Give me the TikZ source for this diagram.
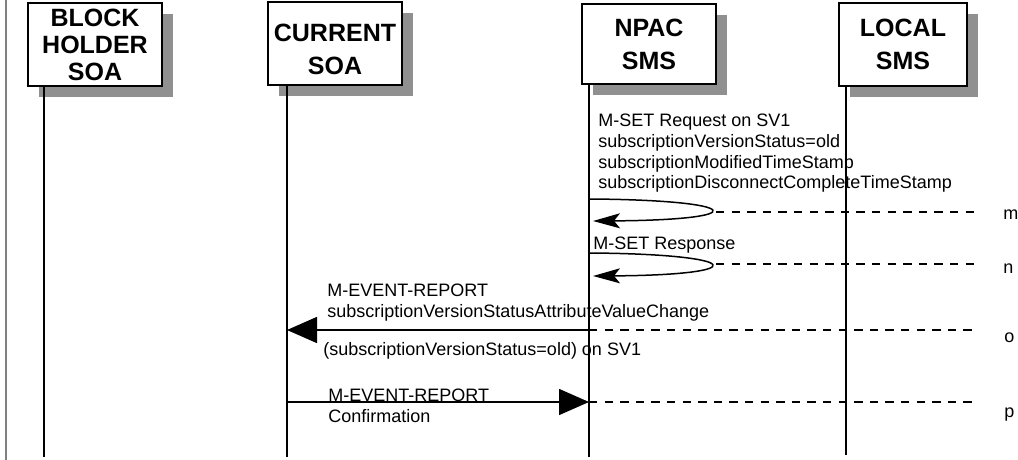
\documentclass[tikz,border=0pt]{standalone}
\usepackage{fontspec}
\setmainfont{Liberation Sans}
\usepackage{color}
\definecolor{myshadow}{RGB}{144,144,144}
\definecolor{myframe}{RGB}{128,128,128}
\usepackage{tikz}
\usetikzlibrary{arrows.meta,shadows,positioning,calc}
\tikzstyle{entity}=[draw,line width=1pt,fill=white,rectangle,minimum width=67pt,minimum height=41.5pt,inner sep=0pt,align=center,font=\fontsize{12.5}{13.5}\selectfont\bfseries,general shadow={fill=myshadow,shadow xshift=5.5pt,shadow yshift=-5.5pt}]
\tikzstyle{lifeline}=[line width=1pt]
\tikzstyle{msgtext}=[inner sep=0pt,anchor=north west,align=left,font=\fontsize{9}{10.3}\selectfont]

\begin{document}
\begin{tikzpicture}[
  x=0.5pt,
  y=-0.5pt,
  msg/.style={line width=0.8pt,-{Triangle[length=15pt,width=13pt]}},
  selfmsg/.style={line width=0.75pt,-{Stealth[length=13.5pt,width=7.5pt,inset=3pt]}},
  track/.style={line width=0.7pt,dash pattern=on 4.2pt off 3.6pt},
  tag/.style={inner sep=0pt,anchor=base west,font=\fontsize{9}{10}\selectfont}
]
\useasboundingbox (0,0) rectangle (1018,460);
\draw[myframe,line width=1pt] (6,0) -- (6,460);

\coordinate (bhE) at (44,457);
\coordinate (curE) at (287,457);
\coordinate (npE) at (589,457);
\coordinate (lsE) at (846,455);

\node [entity] (bh) at (95,44.5) {BLOCK\\HOLDER\\SOA};
\node [entity] (cur) at (335,43.5) {\rule{0pt}{15pt}CURRENT\\[3pt]SOA};
\node [entity, minimum height=40pt] (np) at (649,44) {NPAC\\[3pt]SMS};
\node [entity, minimum width=64pt] (ls) at (903,44.5) {LOCAL\\[3pt]SMS};

\draw[lifeline] (bhE |- bh.south) -- (bhE);
\draw[lifeline] (curE |- cur.south) -- (curE);
\draw[lifeline] (npE |- np.south) -- (npE);
\draw[lifeline] (lsE |- ls.south) -- (lsE);

\node [msgtext] (mTxt) at (598,114) {M-SET Request on SV1\\subscriptionVersionStatus=old\\subscriptionModifiedTimeStamp\\subscriptionDisconnectCompleteTimeStamp};
\coordinate (mS) at (589,199);
\coordinate (mE) at (593,221);
\draw[selfmsg] (mS) .. controls +(156,1) and +(162,-1) .. (mE);
\coordinate (mD) at (716,212);
\coordinate (mR) at (977,212);
\draw[track] (mD) -- (mR);
\node [tag] (mT) at (1003,220) {m};

\node [msgtext] (nTxt) at (593,237) {M-SET Response};
\coordinate (nS) at (589,253);
\coordinate (nE) at (593,276);
\draw[selfmsg] (nS) .. controls +(156,1) and +(162,-1) .. (nE);
\coordinate (nD) at (716,264);
\coordinate (nR) at (977,264);
\draw[track] (nD) -- (nR);
\node [tag] (nT) at (1003,273) {n};

\node [msgtext] (oTxt) at (327,284) {M-EVENT-REPORT\\subscriptionVersionStatusAttributeValueChange};
\node [msgtext] (oTxt2) at (323,342) {(subscriptionVersionStatus=old) on SV1};
\coordinate (oN) at (589,330);
\coordinate (oC) at (287,330);
\coordinate (oR) at (977,330);
\draw[msg] (oN) -- (oC);
\draw[track] (oN) -- (oR);
\node [tag] (oT) at (1004,342) {o};

\node [msgtext] (pTxt) at (328,389) {M-EVENT-REPORT\\Confirmation};
\coordinate (pC) at (287,402);
\coordinate (pN) at (589,402);
\coordinate (pR) at (977,402);
\draw[msg] (pC) -- (pN);
\draw[track] (pN) -- (pR);
\node [tag] (pT) at (1004,417) {p};

\end{tikzpicture}
\end{document}
